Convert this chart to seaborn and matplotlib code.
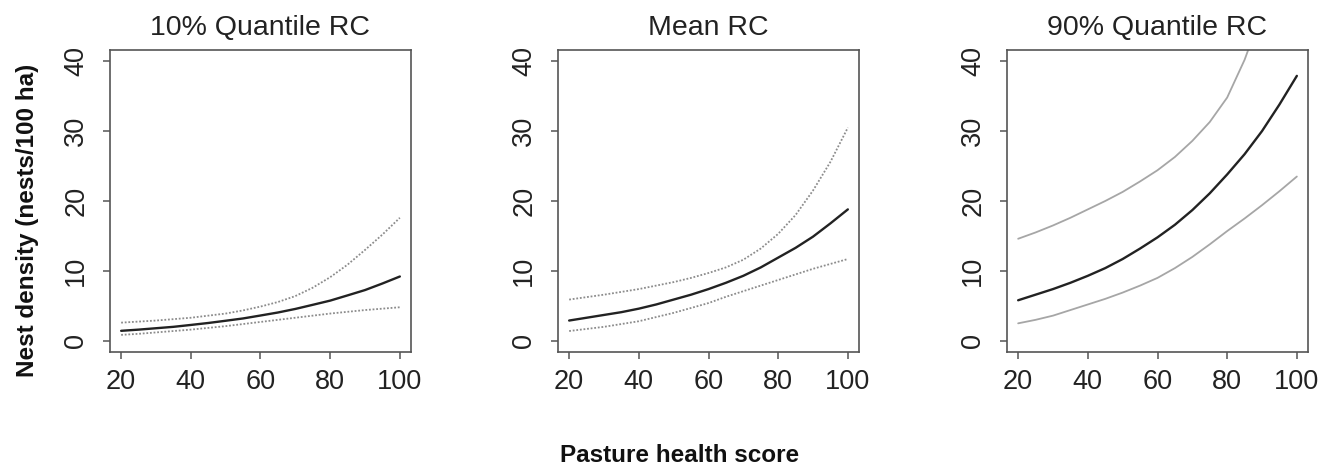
import numpy as np
import pandas as pd
import matplotlib
matplotlib.use("Agg")
import matplotlib.pyplot as plt
import seaborn as sns

# ---- data ----
score = [20, 25, 30, 35, 40, 45, 50, 55, 60, 65, 70, 75, 80, 85, 90, 95, 100]
panel_titles = ["10% Quantile RC", "Mean RC", "90% Quantile RC"]

q10_mean  = [1.43, 1.6, 1.8, 2.0, 2.27, 2.55, 2.87, 3.2, 3.62, 4.05, 4.56, 5.15, 5.75, 6.5, 7.26, 8.2, 9.2]
q10_upper = [2.6, 2.75, 2.9, 3.1, 3.3, 3.6, 3.9, 4.35, 4.9, 5.55, 6.4, 7.6, 9.1, 10.9, 13.0, 15.2, 17.6]
q10_lower = [0.85, 1.0, 1.2, 1.4, 1.6, 1.85, 2.1, 2.4, 2.7, 3.0, 3.3, 3.6, 3.9, 4.15, 4.4, 4.6, 4.8]

mean_mean  = [2.9, 3.3, 3.7, 4.1, 4.6, 5.2, 5.9, 6.6, 7.4, 8.3, 9.3, 10.5, 11.9, 13.3, 14.9, 16.8, 18.8]
mean_upper = [5.9, 6.25, 6.6, 7.0, 7.4, 7.9, 8.4, 9.0, 9.7, 10.5, 11.6, 13.2, 15.3, 18.0, 21.5, 25.6, 30.5]
mean_lower = [1.4, 1.7, 2.0, 2.4, 2.8, 3.4, 4.0, 4.7, 5.4, 6.3, 7.1, 7.9, 8.7, 9.5, 10.3, 11.0, 11.7]

q90_mean  = [5.8, 6.6, 7.4, 8.3, 9.3, 10.4, 11.7, 13.2, 14.8, 16.6, 18.7, 21.1, 23.8, 26.7, 30.0, 33.8, 37.9]
q90_upper = [14.6, 15.5, 16.5, 17.6, 18.8, 20.0, 21.3, 22.8, 24.4, 26.3, 28.6, 31.3, 34.8, 40.2, 47.0, 55.0, 64.0]
q90_lower = [2.5, 3.0, 3.6, 4.4, 5.2, 6.0, 6.9, 7.9, 9.0, 10.4, 12.0, 13.8, 15.7, 17.5, 19.4, 21.4, 23.5]

x_ticks = [20, 40, 60, 80, 100]
y_ticks = [0, 10, 20, 30, 40]
x_label = "Pasture health score"
y_label = "Nest density (nests/100 ha)"

panels = [
    (q10_mean, q10_upper, q10_lower),
    (mean_mean, mean_upper, mean_lower),
    (q90_mean, q90_upper, q90_lower),
]

sns.set_style("white")
plt.rcParams["font.family"] = ["Liberation Sans", "DejaVu Sans"]

W, H = 1330, 475
fig = plt.figure(figsize=(W / 100, H / 100), dpi=100)

lefts = [110, 558, 1007]
ax_w = 301
ax_top, ax_bot = 50, 352
edge = "#555555"

for i, (m, u, l) in enumerate(panels):
    ax = fig.add_axes([lefts[i] / W, 1 - ax_bot / H, ax_w / W, (ax_bot - ax_top) / H])
    df = pd.DataFrame({"score": score, "mean": m, "upper": u, "lower": l})
    ci_style = (0, (1, 1)) if i < 2 else "-"
    ci_color = "#8c8c8c" if i < 2 else "#a6a6a6"
    sns.lineplot(data=df, x="score", y="upper", ax=ax, color=ci_color,
                 linewidth=1.3, linestyle=ci_style)
    sns.lineplot(data=df, x="score", y="lower", ax=ax, color=ci_color,
                 linewidth=1.3, linestyle=ci_style)
    sns.lineplot(data=df, x="score", y="mean", ax=ax, color="#222222",
                 linewidth=1.7)
    ax.set_xlim(16.8, 103.2)
    ax.set_ylim(-1.6, 41.6)
    ax.set_xticks(x_ticks)
    ax.set_yticks(y_ticks)
    ax.set_xlabel("")
    ax.set_ylabel("")
    ax.set_title(panel_titles[i], fontsize=20.5, color="#222222", pad=11)
    for s in ax.spines.values():
        s.set_visible(True)
        s.set_color(edge)
        s.set_linewidth(1.2)
    ax.tick_params(axis="both", which="both", direction="out", length=5,
                   width=1.1, color=edge, labelsize=19.5, labelcolor="#222222",
                   bottom=True, left=True, top=False, right=False)
    ax.tick_params(axis="x", pad=7)
    ax.tick_params(axis="y", pad=10)
    for lab in ax.get_yticklabels():
        lab.set_rotation(90)
        lab.set_va("center")

fig.text(680 / W, 1 - 455 / H, x_label, ha="center", va="center",
         fontsize=17.5, fontweight="bold", color="#111111")
fig.text(28 / W, 1 - 220 / H, y_label, ha="center", va="center",
         rotation=90, fontsize=17.5, fontweight="bold", color="#111111")

fig.savefig("out.png", dpi=100)
